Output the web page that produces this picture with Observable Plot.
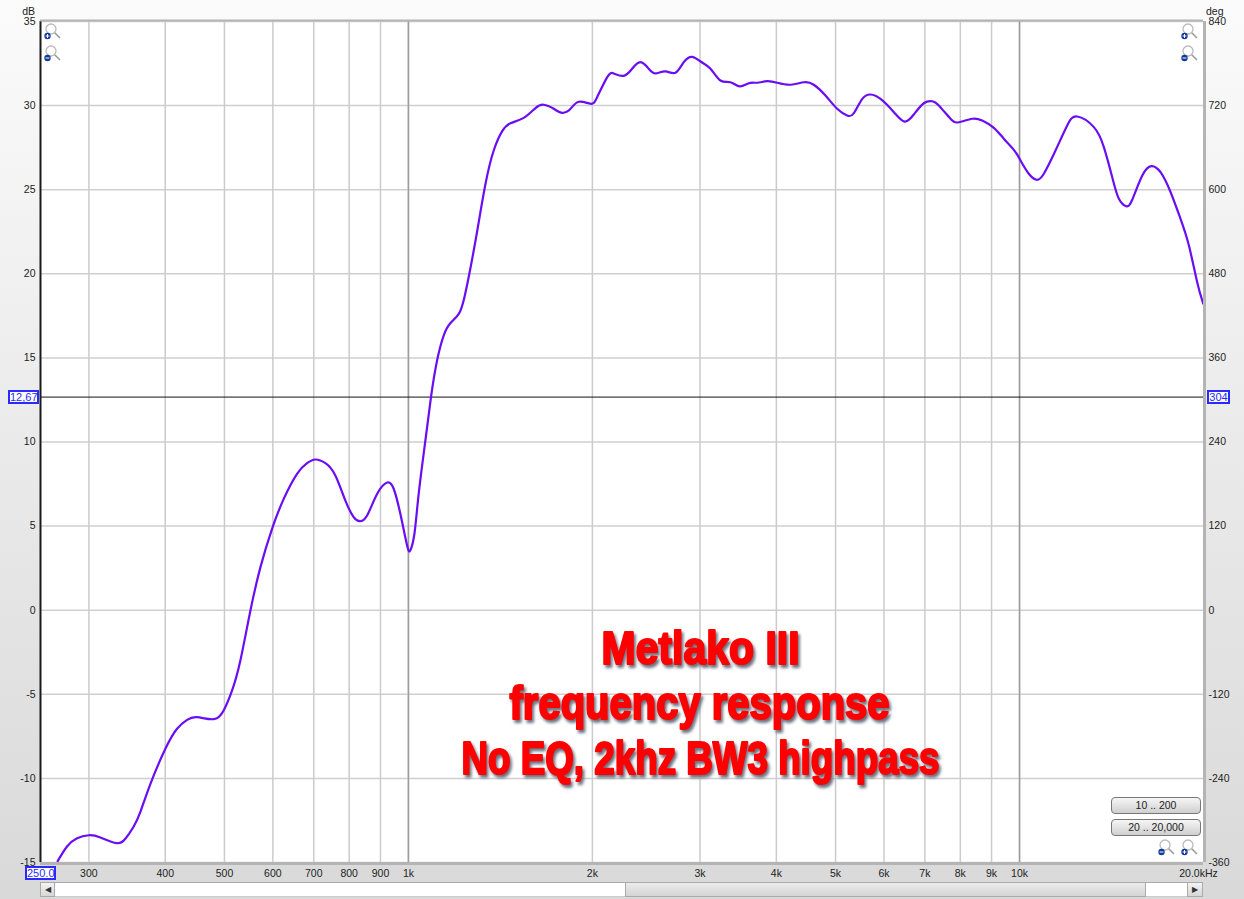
<!DOCTYPE html>
<html><head><meta charset="utf-8">
<script src="https://cdn.jsdelivr.net/npm/d3@7"></script>
<script src="https://cdn.jsdelivr.net/npm/@observablehq/plot@0.6"></script>
<style>
html,body{margin:0;padding:0;width:1244px;height:899px;overflow:hidden}
body{position:relative;background:linear-gradient(#fbfbfb,#d9d9d9);font-family:"Liberation Sans",Arial,sans-serif;color:#222}
#chart{position:absolute;left:0;top:0}
#chart svg{display:block}
.box{position:absolute;box-sizing:border-box;height:14px;border:2px solid #2a2aff;background:#fff;color:#2a2aff;font-size:11px;line-height:10px;text-align:center}
.btn{position:absolute;box-sizing:border-box;left:1111px;width:90px;height:17px;border:1px solid #777;border-radius:4px;background:linear-gradient(#f6f6f6,#cfcfcf);font-size:10.5px;line-height:15px;text-align:center;color:#222}
.bar{position:absolute;top:882px;height:15px;box-sizing:border-box}
.ic{position:absolute}
</style></head><body>
<div id="chart"></div>
<script>
const freqHz=[266.7,276.3,286.9,299.8,313.3,332.7,344.2,355.2,364.1,378.3,400.2,418.2,434.3,451,480,498.5,514.6,530.9,551.4,572.6,598.2,625.1,657.3,682.6,704.2,731.5,759.3,788.6,813.6,832.4,855.8,889,923,946,970,995,1007.6,1023,1039.6,1066,1089,1114,1142,1171,1209,1235,1264,1299,1337,1379,1424,1469,1544,1614,1665,1729,1785,1842,1900,1986,2036,2115,2168,2251,2323,2397,2473,2537,2634,2735,2822,2913,3006,3121,3240,3365,3485,3606,3722,3864,4012,4220,4436,4605,4813,5030,5224,5356,5530,5704,5923,6229,6484,6714,6972,7196,7377,7709,7955,8368,8688,9077,9425,9788,10037,10356,10661,10959,11451,11968,12429,13232,13740,14180,14540,14950,15290,15880,16430,17010,17670,18340,18930,19530,19980];
const levelDb=[-14.92,-14.05,-13.56,-13.38,-13.51,-13.85,-13.59,-12.86,-12.01,-10.32,-8.24,-7.05,-6.52,-6.36,-6.48,-5.96,-4.77,-2.99,-0.02,2.56,4.84,6.62,8.11,8.74,8.96,8.74,8.01,6.52,5.53,5.29,5.63,6.92,7.59,7.22,5.73,3.85,3.57,4.56,6.94,10.09,12.7,14.85,16.33,17.06,17.62,18.61,20.39,22.77,25.35,27.33,28.48,28.95,29.27,29.85,30.05,29.81,29.57,29.81,30.23,30.11,30.5,31.69,31.91,31.77,32.19,32.58,32.19,31.91,32.03,31.95,32.58,32.9,32.62,32.19,31.49,31.39,31.14,31.33,31.36,31.45,31.36,31.24,31.39,31.24,30.6,29.81,29.41,29.55,30.4,30.66,30.4,29.61,29.05,29.47,30.14,30.26,30.01,29.22,29.01,29.22,29.11,28.68,28.03,27.37,26.74,25.95,25.59,25.95,27.33,28.82,29.35,28.72,27.53,25.74,24.46,24.02,24.4,25.84,26.4,26.04,24.85,23.27,21.68,19.5,18.22];
const xTicks=[300,400,500,600,700,800,900,1000,2000,3000,4000,5000,6000,7000,8000,9000,10000];
const xLabels=["300","400","500","600","700","800","900","1k","2k","3k","4k","5k","6k","7k","8k","9k","10k"];
const decadeLines=[1000,10000];
const dbTicks=[35,30,25,20,15,10,5,0,-5,-10,-15];
const degLabels=["840","720","600","480","360","240","120","0","-120","-240","-360"];
const cursorDb=12.67;
const titleLines=["Metlako III","frequency response","No EQ, 2khz BW3 highpass"];
const titleDb=[-2.3,-5.55,-8.82];
const titleHz=[3006,2995,3006];
const titleWidths=[198,380,478];
const curve=freqHz.map((f,i)=>({f,db:levelDb[i]}));
const titles=titleLines.map((t,i)=>({t,db:titleDb[i],f:titleHz[i]}));
const xLabelRows=xTicks.map((f,i)=>({f,t:xLabels[i]}));
const edge="#b4b4b4", ink="#222";
const plot=Plot.plot({
  width:1244,height:899,marginLeft:40,marginRight:41,marginTop:21,marginBottom:37,
  style:{background:"transparent",fontFamily:"'Liberation Sans',Arial,sans-serif",fontSize:"10.5px",color:ink},
  x:{type:"log",domain:[250,20000],axis:null},
  y:{domain:[-15,35]},
  marks:[
    Plot.frame({fill:"white",stroke:"none"}),
    Plot.ruleY(dbTicks,{stroke:"#cfcfcf",strokeWidth:1.5}),
    Plot.ruleX(xTicks,{stroke:"#cbcbcb",strokeWidth:1.5}),
    Plot.ruleX(decadeLines,{stroke:"#9c9c9c",strokeWidth:1.5}),
    Plot.ruleY([cursorDb],{stroke:"#111",strokeWidth:1}),
    Plot.line(curve,{x:"f",y:"db",stroke:"#6a0df5",strokeWidth:2.2,curve:"natural",clip:"frame"}),
    Plot.text(titles,{x:"f",y:"db",text:"t",fill:"#ff0000",stroke:"#ff0000",strokeWidth:2.2,
      fontFamily:"'Liberation Sans',sans-serif",fontWeight:"bold",fontSize:47,
      imageFilter:"drop-shadow(2px 3px 1.5px #6b7280)"}),
    Plot.ruleX([250],{stroke:"#1a1a1a",strokeWidth:2}),
    Plot.ruleX([20000],{stroke:edge,strokeWidth:3,dx:1}),
    Plot.ruleY([35],{stroke:edge,strokeWidth:2,dy:-1}),
    Plot.ruleY([-15],{stroke:edge,strokeWidth:3,dy:1}),
    Plot.axisY({ticks:dbTicks,anchor:"left",tickSize:0,tickPadding:5,label:null,tickFormat:d=>String(d)}),
    Plot.axisY({ticks:dbTicks,anchor:"right",tickSize:0,tickPadding:5,label:null,tickFormat:d=>degLabels[dbTicks.indexOf(d)]}),
    Plot.text(xLabelRows,{x:"f",y:()=>-15,dy:11,text:"t",clip:false,fill:ink,fontSize:10.5}),
    Plot.text(["20.0kHz"],{x:20000,y:-15,dx:-5,dy:11,text:d=>d,clip:false,fill:ink,fontSize:10.5})
  ]
});
document.getElementById("chart").append(plot);
plot.querySelectorAll("text").forEach(t=>{const i=titleLines.indexOf(t.textContent);if(i>=0){t.setAttribute("textLength",titleWidths[i]);t.setAttribute("lengthAdjust","spacingAndGlyphs")}});
function addText(t,css){const e=document.createElement("div");e.textContent=t;e.style.cssText="position:absolute;font-size:10.5px;"+css;document.body.append(e);return e}
addText("dB","left:20px;top:5px;width:15px;text-align:right");
addText("deg","left:1206px;top:5px");
function addBox(t,l,top,w){const e=document.createElement("div");e.className="box";e.textContent=t;e.style.left=l+"px";e.style.top=top+"px";e.style.width=w+"px";document.body.append(e)}
addBox("250.0",25,866,31);
addBox("12,67",8,390,31);
addBox("304",1207,390,23);
function addBtn(t,top){const e=document.createElement("div");e.className="btn";e.textContent=t;e.style.top=top+"px";document.body.append(e)}
addBtn("10 .. 200",797);
addBtn("20 .. 20,000",819);
function addIcon(l,top,plus){const w=document.createElement("div");w.className="ic";w.style.left=l+"px";w.style.top=top+"px";
 w.innerHTML=`<svg width="18" height="18"><line x1="9" y1="8" x2="16" y2="15" stroke="#999" stroke-width="1.5"/><circle cx="7" cy="6" r="5" fill="#fff" stroke="#bbb" stroke-width="1.3"/><circle cx="3.5" cy="13" r="3.2" fill="#123a9c"/><line x1="1.6" y1="13" x2="5.4" y2="13" stroke="#fff"/>${plus?'<line x1="3.5" y1="11" x2="3.5" y2="15" stroke="#fff"/>':''}</svg>`;document.body.append(w)}
addIcon(44,23,true);addIcon(44,45,false);addIcon(1181,23,true);addIcon(1181,45,false);addIcon(1158,839,false);addIcon(1181,839,true);
function addBar(l,w,css,txt){const e=document.createElement("div");e.className="bar";e.style.left=l+"px";e.style.width=w+"px";e.style.cssText+=css;if(txt){e.textContent=txt}document.body.append(e)}
addBar(55,570,"background:#fff;border-top:1px solid #aaa;border-bottom:1px solid #ccc");
addBar(625,521,"background:linear-gradient(#ececec,#d4d4d4);border:1px solid #aaa");
addBar(1146,41,"background:#fff;border-top:1px solid #aaa;border-bottom:1px solid #ccc");
addBar(40,15,"background:linear-gradient(#f4f4f4,#d6d6d6);border:1px solid #aaa;font-size:8px;line-height:13px;text-align:center;color:#333","◀");
addBar(1187,16,"background:linear-gradient(#f4f4f4,#d6d6d6);border:1px solid #aaa;font-size:8px;line-height:13px;text-align:center;color:#333","▶");
</script>
</body></html>
